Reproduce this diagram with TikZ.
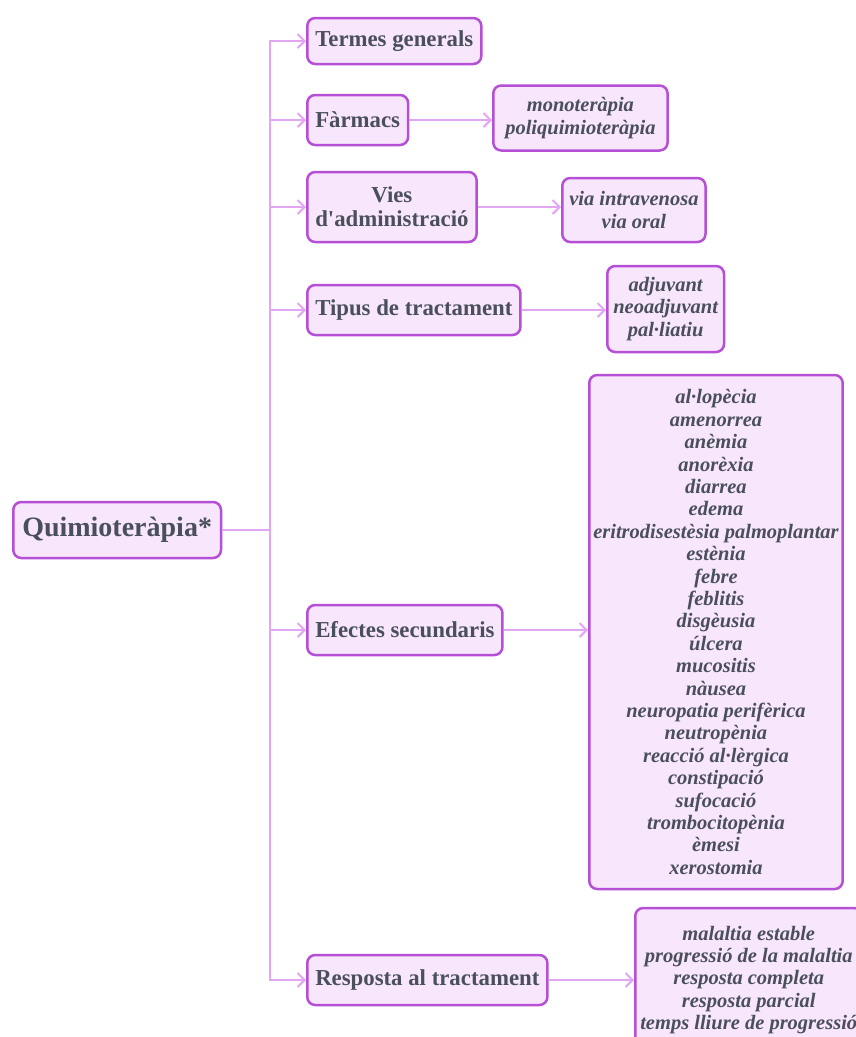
\documentclass[tikz,border=0pt]{standalone}
\usepackage{fontspec}
\setmainfont{Liberation Serif}
\usetikzlibrary{arrows.meta}
\definecolor{boxline}{HTML}{B54FD6}
\definecolor{boxfill}{HTML}{F8E7FC}
\definecolor{linkcol}{HTML}{E2A6F2}
\definecolor{ink}{HTML}{4A4F5B}

\begin{document}
\begin{tikzpicture}[x=1pt,y=-1pt,
  box/.style={draw=boxline, fill=boxfill, line width=2.5pt, rounded corners=8pt,
    text=ink, align=center, anchor=west, inner xsep=8pt,
    font=\bfseries\fontsize{22.8}{24}\selectfont},
  leaf/.style={box, inner xsep=8pt, font=\bfseries\itshape\fontsize{20.5}{22.4}\selectfont},
  link/.style={draw=linkcol, line width=2pt, -{Straight Barb[length=7pt,width=14pt]}}]
\useasboundingbox (0,0) rectangle (856,1037);

\node[box, minimum height=56pt, inner xsep=9pt, font=\bfseries\fontsize{28}{30}\selectfont] (quim) at (12,530)
{Quimioteràpia*};
\coordinate (trunk) at (270,530);

\node[box, minimum height=46pt] (termes) at (306,41) {Termes generals};
\node[box, minimum height=50pt] (farmacs) at (306,120) {Fàrmacs};
\node[box, minimum height=70pt] (vies) at (306,207) {Vies\\d\textquotesingle administració};
\node[box, minimum height=50pt] (tipus) at (306,310) {Tipus de tractament};
\node[box, minimum height=50pt] (efectes) at (306,630) {Efectes secundaris};
\node[box, minimum height=50pt] (resposta) at (306,980) {Resposta al tractament};

\node[leaf, minimum height=65pt, inner xsep=12pt] (farmacsl) at (492,118)
{monoteràpia\\poliquimioteràpia};
\node[leaf, minimum height=64pt, inner xsep=7pt] (viesl) at (561,210)
{via intravenosa\\via oral};
\node[leaf, minimum height=86pt, inner xsep=6pt] (tipusl) at (606,309)
{adjuvant\\neoadjuvant\\pal·liatiu};
\node[leaf, minimum height=514pt, inner xsep=4pt] (efectesl) at (588,632)
{al·lopècia\\amenorrea\\anèmia\\anorèxia\\diarrea\\edema\\eritrodisestèsia palmoplantar\\
estènia\\febre\\feblitis\\disgèusia\\úlcera\\mucositis\\nàusea\\neuropatia perifèrica\\
neutropènia\\reacció al·lèrgica\\constipació\\sufocació\\trombocitopènia\\èmesi\\xerostomia};
\node[leaf, minimum height=144pt, inner xsep=5pt] (respostal) at (634,980)
{malaltia estable\\progressió de la malaltia\\resposta completa\\resposta parcial\\
temps lliure de progressió};

\draw[link] (quim.east) -- (trunk) |- (termes.west);
\draw[link] (quim.east) -- (trunk) |- (farmacs.west);
\draw[link] (quim.east) -- (trunk) |- (vies.west);
\draw[link] (quim.east) -- (trunk) |- (tipus.west);
\draw[link] (quim.east) -- (trunk) |- (efectes.west);
\draw[link] (quim.east) -- (trunk) |- (resposta.west);

\draw[link] (farmacs.east) -- (farmacs.east -| farmacsl.west);
\draw[link] (vies.east) -- (vies.east -| viesl.west);
\draw[link] (tipus.east) -- (tipus.east -| tipusl.west);
\draw[link] (efectes.east) -- (efectes.east -| efectesl.west);
\draw[link] (resposta.east) -- (resposta.east -| respostal.west);
\end{tikzpicture}
\end{document}
